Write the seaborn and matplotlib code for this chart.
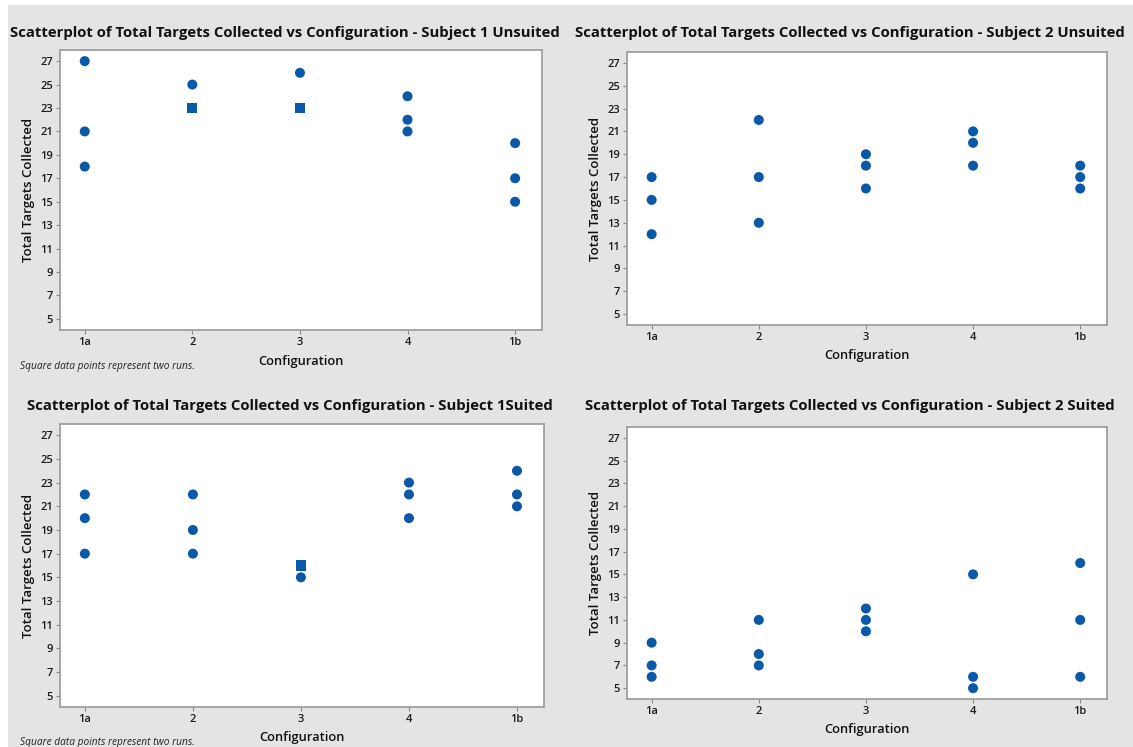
import pandas as pd
import seaborn as sns
import matplotlib.pyplot as plt
from matplotlib.patches import Rectangle

sns.set_theme(style="white")
plt.rcParams['font.family'] = ['Open Sans', 'DejaVu Sans']

# data
configs = ["1a", "2", "3", "4", "1b"]

s1_unsuited_x = ["1a", "1a", "1a", "2", "2", "3", "3", "4", "4", "4", "1b", "1b", "1b"]
s1_unsuited_y = [27, 21, 18, 25, 23, 26, 23, 24, 22, 21, 20, 17, 15]
s1_unsuited_runs = [1, 1, 1, 1, 2, 1, 2, 1, 1, 1, 1, 1, 1]

s2_unsuited_x = ["1a", "1a", "1a", "2", "2", "2", "3", "3", "3", "4", "4", "4", "1b", "1b", "1b"]
s2_unsuited_y = [17, 15, 12, 22, 17, 13, 19, 18, 16, 21, 20, 18, 18, 17, 16]
s2_unsuited_runs = [1] * 15

s1_suited_x = ["1a", "1a", "1a", "2", "2", "2", "3", "3", "4", "4", "4", "1b", "1b", "1b"]
s1_suited_y = [22, 20, 17, 22, 19, 17, 16, 15, 23, 22, 20, 24, 22, 21]
s1_suited_runs = [1, 1, 1, 1, 1, 1, 2, 1, 1, 1, 1, 1, 1, 1]

s2_suited_x = ["1a", "1a", "1a", "2", "2", "2", "3", "3", "3", "4", "4", "4", "1b", "1b", "1b"]
s2_suited_y = [9, 7, 6, 11, 8, 7, 12, 11, 10, 15, 6, 5, 16, 11, 6]
s2_suited_runs = [1] * 15

yticks = list(range(5, 28, 2))

W, H = 1133, 747
fig = plt.figure(figsize=(W / 100, H / 100), dpi=100, facecolor="white")
# gray panel background like the minitab export
fig.patches.append(Rectangle((8 / W, 0), 1 - 8 / W, 1 - 5 / H, transform=fig.transFigure,
                             facecolor="#e4e4e4", edgecolor="none", zorder=-10))

def px_axes(l, t, r, b):
    return fig.add_axes([l / W, 1 - b / H, (r - l) / W, (b - t) / H])

panels = [
    (s1_unsuited_x, s1_unsuited_y, s1_unsuited_runs, (60, 50, 542, 330),
     "Scatterplot of Total Targets Collected vs Configuration - Subject 1 Unsuited", 285, 33, 29, 361, True),
    (s2_unsuited_x, s2_unsuited_y, s2_unsuited_runs, (627, 52, 1107, 325),
     "Scatterplot of Total Targets Collected vs Configuration - Subject 2 Unsuited", 850, 33, 596, 355, False),
    (s1_suited_x, s1_suited_y, s1_suited_runs, (60, 424, 544, 707),
     "Scatterplot of Total Targets Collected vs Configuration - Subject 1Suited", 290, 406, 29, 737, True),
    (s2_suited_x, s2_suited_y, s2_suited_runs, (627, 427, 1107, 699),
     "Scatterplot of Total Targets Collected vs Configuration - Subject 2 Suited", 850, 406, 596, 730, False),
]

blue = "#0a58a8"
for xs, ys, runs, box, title, tx, ty, ylx, xly, note in panels:
    ax = px_axes(*box)
    df = pd.DataFrame({"Configuration": xs, "Total": ys, "Runs": runs})
    df["Configuration"] = pd.Categorical(df["Configuration"], categories=configs)
    sns.scatterplot(data=df, x="Configuration", y="Total", style="Runs",
                    markers={1: "o", 2: "s"}, color=blue, s=52, linewidth=0,
                    legend=False, ax=ax)
    ax.set_xlim(-0.23, 4.25)
    ax.set_ylim(4.05, 27.95)
    ax.set_yticks(yticks)
    ax.set_xticks(range(len(configs)))
    ax.set_xticklabels(configs)
    ax.tick_params(axis="both", labelsize=8, labelcolor="#1a1a1a", length=3, width=0.8,
                   direction="out", left=True, bottom=True, pad=2, color="#888888")
    for lbl in ax.get_xticklabels() + ax.get_yticklabels():
        lbl.set_fontweight("semibold")
    for sp in ax.spines.values():
        sp.set_color("#a0a0a0")
        sp.set_linewidth(1.3)
    ax.set_xlabel("")
    ax.set_ylabel("")
    ax.set_facecolor("white")
    fig.text(tx / W, 1 - ty / H, title, ha="center", va="center", fontsize=10.7,
             fontweight="bold", color="#111111")
    cy = (box[1] + box[3]) / 2
    fig.text(ylx / W, 1 - cy / H, "Total Targets Collected", rotation=90, ha="center",
             va="center", fontsize=9.5, fontweight="semibold", color="#111111")
    cx = (box[0] + box[2]) / 2
    fig.text(cx / W, 1 - xly / H, "Configuration", ha="center", va="center",
             fontsize=9.3, fontweight="semibold", color="#111111")
    if note:
        fig.text(20 / W, 1 - (xly + 5) / H, "Square data points represent two runs.",
                 ha="left", va="center", fontsize=7.3, style="italic", color="#222222")

fig.savefig("out.png", dpi=100, facecolor=fig.get_facecolor())
